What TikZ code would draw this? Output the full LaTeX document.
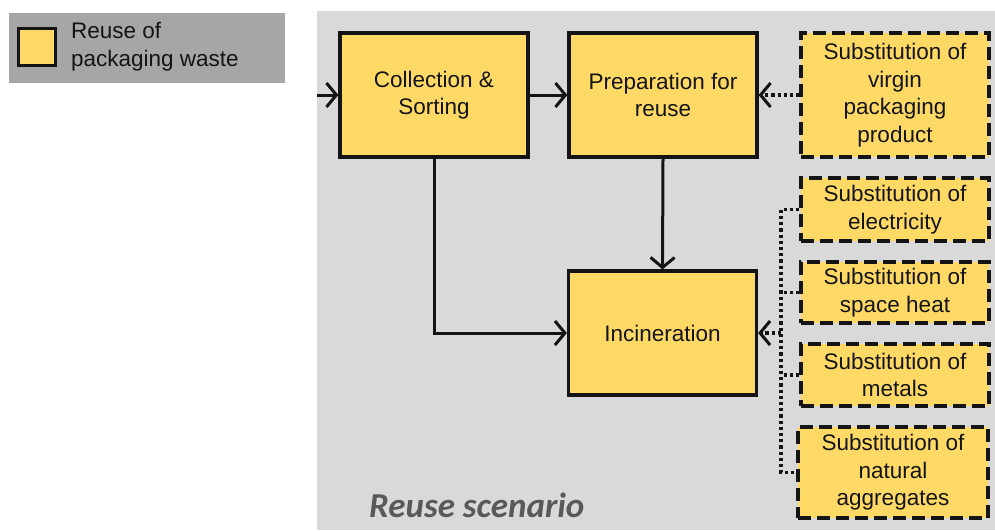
\documentclass[tikz,border=0pt]{standalone}
\usepackage{fontspec}
\setmainfont{Liberation Sans}
\newfontfamily\scenariofont{Carlito}
\usetikzlibrary{arrows.meta}
\definecolor{boxfill}{HTML}{FFD966}
\definecolor{panel}{HTML}{D9D9D9}
\definecolor{legendgray}{HTML}{A6A6A6}
\definecolor{inkc}{HTML}{141414}
\definecolor{scen}{HTML}{595959}
\tikzset{
  procbox/.style={draw=inkc, fill=boxfill, line width=3.2pt, rectangle,
    minimum width=188pt, minimum height=124pt, inner sep=0pt, align=center,
    text=inkc, font=\fontsize{22.5}{27.5}\selectfont},
  subbox/.style={procbox, dash pattern=on 13pt off 6pt, line width=3.4pt,
    minimum width=188pt},
  arr/.style={draw=inkc, line width=3pt,
    -{Straight Barb[length=10pt,width=24pt,line width=3pt]}},
  dotline/.style={draw=inkc, line width=3.2pt, dash pattern=on 3.2pt off 3pt},
  dotarr/.style={dotline, -{Straight Barb[length=10pt,width=24pt,line width=3pt]}},
}
\begin{document}
\begin{tikzpicture}[x=1pt,y=-1pt]
\useasboundingbox (0,0) rectangle (995,530);
% backgrounds
\fill[panel] (317,11) rectangle (995,530);
\fill[legendgray] (9,13) rectangle (285,83);
% legend
\node[draw=inkc, fill=boxfill, line width=2.6pt, minimum width=37pt, minimum height=37pt, inner sep=0pt] (legsq) at (37,47) {};
\node[anchor=west, align=left, inner sep=0pt, text=inkc, font=\fontsize{22.5}{28}\selectfont] (legtxt) at (71,47) {Reuse of\\packaging waste};
% process boxes
\node[procbox] (coll) at (434,95) {Collection \&\\Sorting};
\node[procbox] (prep) at (663,95) {Preparation for\\reuse};
\node[procbox] (incin) at (662.5,333) {Incineration};
% substitution boxes
\node[subbox, minimum height=124pt] (virgin) at (895,95) {Substitution of\\virgin\\packaging\\product};
\node[subbox, minimum height=63pt] (elec) at (895,209.5) {Substitution of\\electricity};
\node[subbox, minimum height=61pt] (heat) at (895,292.5) {Substitution of\\space heat};
\node[subbox, minimum height=62pt] (metal) at (895,375) {Substitution of\\metals};
\node[subbox, minimum height=91pt, minimum width=190pt] (aggr) at (893,472.5) {Substitution of\\natural\\aggregates};
% scenario title
\node[anchor=base west, inner sep=0pt, text=scen, font=\scenariofont\bfseries\itshape\fontsize{35}{38}\selectfont] (title) at (369,517) {Reuse scenario};
% material flows
\coordinate (entry) at (317,95);
\draw[arr] (entry) -- (coll.west);
\draw[arr] (coll.east) -- (prep.west);
\draw[arr] (prep.south) -- (incin.north);
\draw[arr] (coll.south) |- (incin.west);
% substitution links
\draw[dotarr] (virgin.west) -- (prep.east);
\coordinate (bus) at (781,0);
\draw[dotline] (elec.west) -- (elec.west -| bus) -- (aggr.west -| bus) -- (aggr.west);
\draw[dotline] (heat.west) -- (heat.west -| bus);
\draw[dotline] (metal.west) -- (metal.west -| bus);
\draw[dotarr] (incin.east -| bus) -- (incin.east);
\end{tikzpicture}
\end{document}
